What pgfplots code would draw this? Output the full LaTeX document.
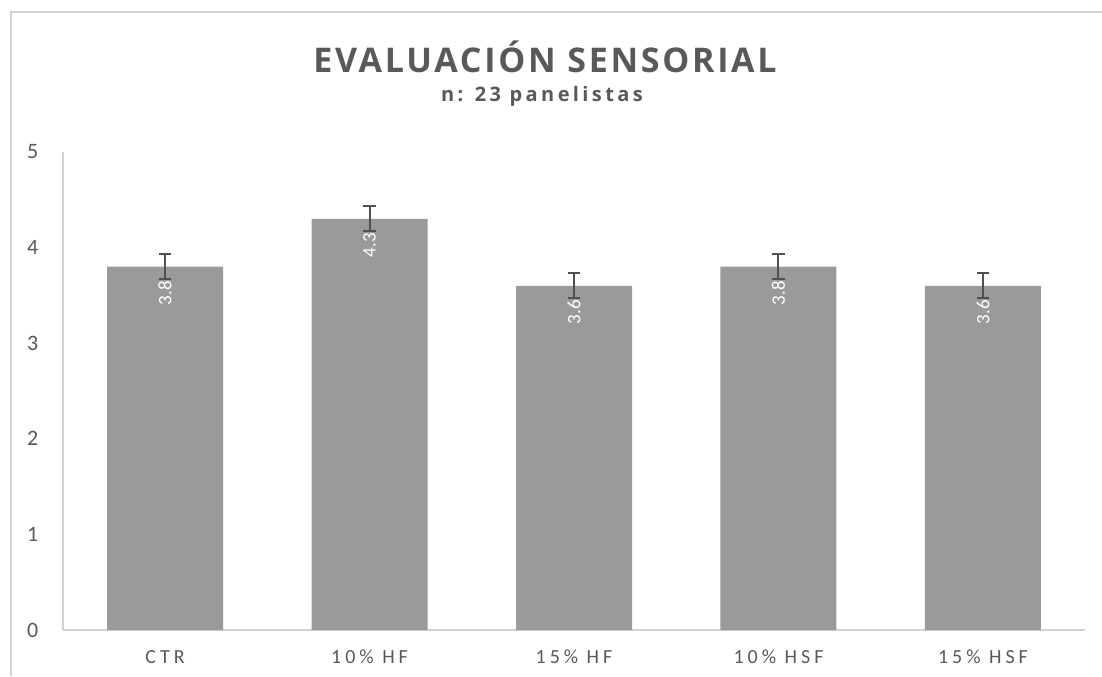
\documentclass[border=0pt]{standalone}
\usepackage{fontspec}
\setmainfont{Carlito}
\newfontfamily\titlefont[LetterSpace=8]{Open Sans}
\newfontfamily\subfont[LetterSpace=17]{Open Sans}
\newfontfamily\tickfont[LetterSpace=20]{Carlito}
\usepackage{pgfplots}
\pgfplotsset{compat=1.18}

\definecolor{barcol}{RGB}{153,155,155}
\definecolor{errcol}{RGB}{80,80,80}
\definecolor{txtcol}{RGB}{89,89,89}
\definecolor{linecol}{RGB}{210,210,210}

\begin{document}
\begin{tikzpicture}
  % page = 1102 x 676 px, 1 px = 0.5pt
  \path[use as bounding box] (0,0) rectangle (551pt,338pt);
  \draw[linecol, line width=0.7pt] (5.5pt,0) -- (5.5pt,332pt) -- (551pt,332pt);

  \node[anchor=base, font=\titlefont\fontsize{17}{20}\selectfont\bfseries, text=txtcol]
    at (272.5pt,301.5pt) {EVALUACIÓN SENSORIAL};
  \node[anchor=base, font=\subfont\fontsize{10}{12}\selectfont\bfseries, text=txtcol]
    at (271pt,287pt) {n: 23 panelistas};

  \begin{axis}[
      at={(31.4pt,23pt)}, anchor=south west,
      scale only axis,
      width=511.2pt, height=239pt,
      ybar, bar width=58pt,
      xmin=-0.5, xmax=4.5,
      ymin=0, ymax=5,
      axis x line=bottom, axis y line=left,
      axis line style={linecol, line width=0.8pt, -},
      major tick length=0pt,
      xtick={0,1,2,3,4},
      xticklabels={CTR, 10\% HF, 15\% HF, 10\% HSF, 15\% HSF},
      ytick={0,1,2,3,4,5},
      xticklabel style={font=\tickfont\fontsize{10}{12}\selectfont, text=txtcol,
        anchor=base, inner sep=0pt, yshift=-16.6pt},
      yticklabel style={font=\fontsize{11}{13}\selectfont, text=txtcol,
        anchor=east, inner sep=0pt, xshift=-12pt},
      /pgf/number format/assume math mode=true,
      nodes near coords,
      every node near coord/.append style={rotate=90, anchor=east,
        font=\fontsize{9.5}{11}\selectfont, text=white, inner xsep=7pt,
        /pgf/number format/fixed, /pgf/number format/precision=1,
        /pgf/number format/fixed zerofill},
    ]
    \addplot[fill=barcol, draw=none,
      error bars/.cd, y dir=both, y explicit,
      error bar style={errcol, line width=1pt},
      error mark options={rotate=90, errcol, line width=1pt, mark size=3.1pt}]
      coordinates {
        (0,3.8) +- (0,0.13)
        (1,4.3) +- (0,0.13)
        (2,3.6) +- (0,0.13)
        (3,3.8) +- (0,0.13)
        (4,3.6) +- (0,0.13)
      };
  \end{axis}
\end{tikzpicture}
\end{document}
